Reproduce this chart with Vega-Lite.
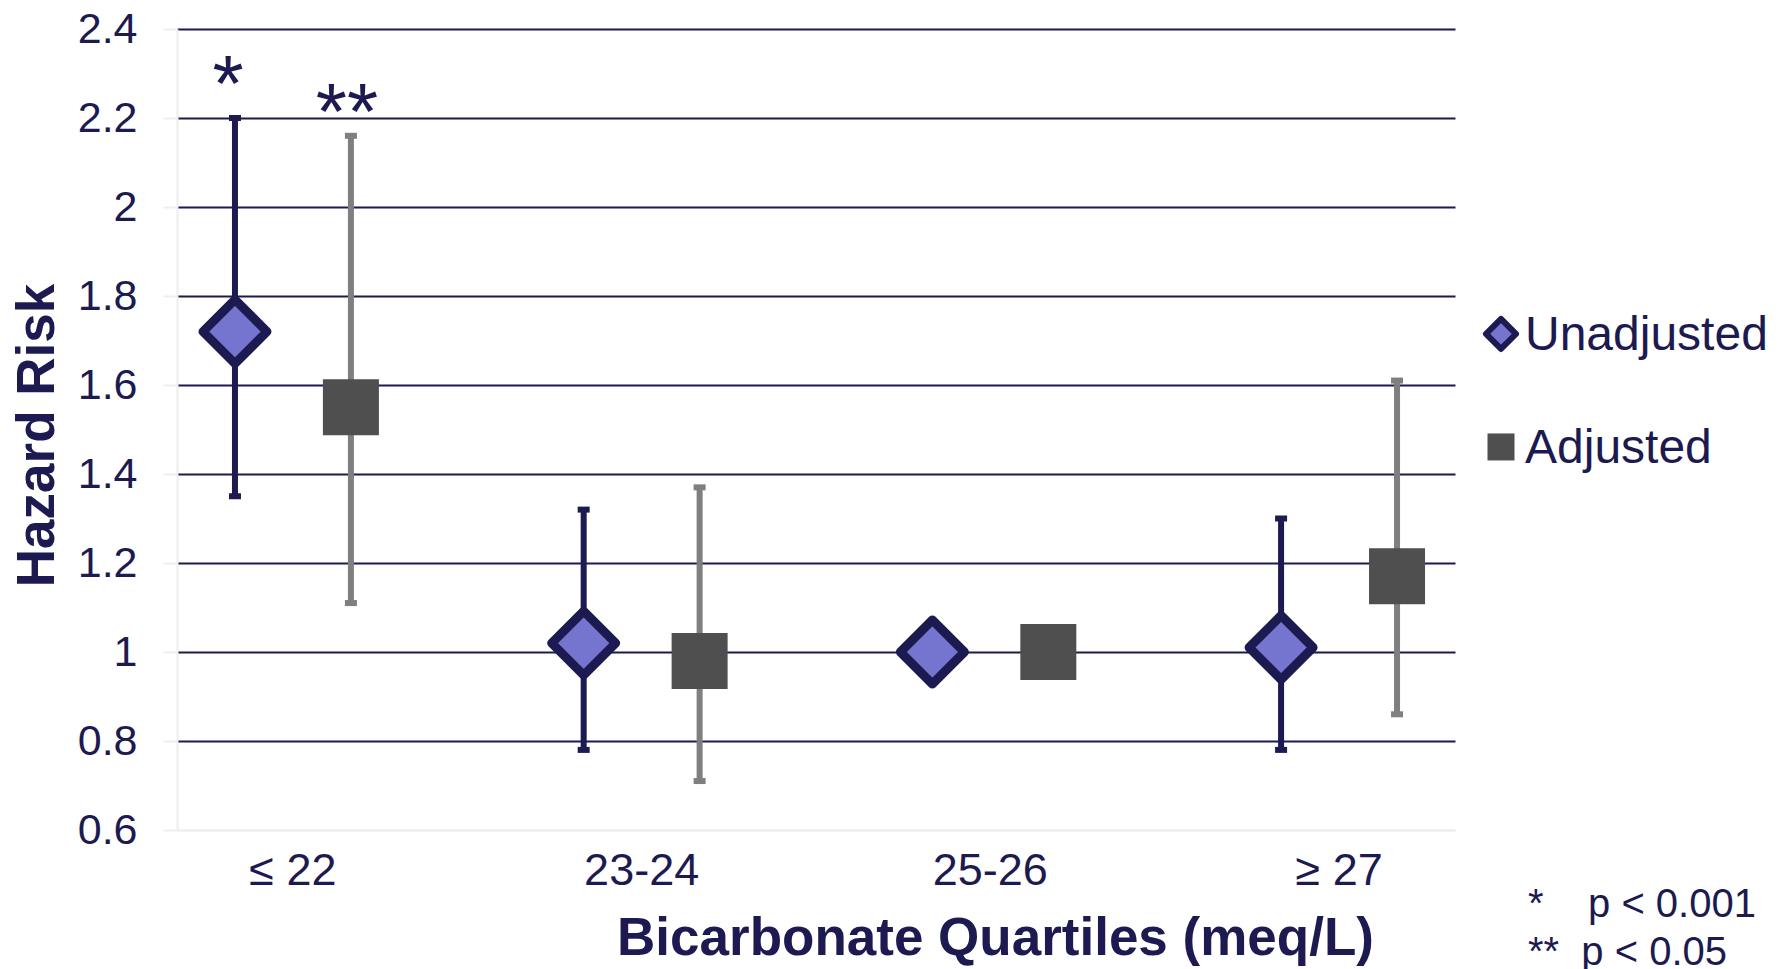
{
  "$schema": "https://vega.github.io/schema/vega-lite/v6.json",
  "autosize": {"type": "none"},
  "padding": {"left": 177, "top": 29, "right": 1611, "bottom": 139},
  "background": "white",
  "config": {"view": {"stroke": null}, "font": "Liberation Sans"},
  "spacing": 0,
  "bounds": "flush",
  "resolve": {"scale": {"y": "independent", "shape": "independent", "fill": "independent", "stroke": "independent", "size": "independent", "strokeWidth": "independent", "color": "independent"}},
  "title": {
    "text": ["*\u00a0\u00a0\u00a0\u00a0p < 0.001", "**\u00a0\u00a0p < 0.05"],
    "orient": "bottom",
    "anchor": "start",
    "align": "left",
    "dx": 1351,
    "offset": -80,
    "fontSize": 40,
    "fontWeight": "normal",
    "color": "#1c1a50",
    "lineHeight": 48,
    "font": "Liberation Sans",
    "frame": "group"
  },
  "hconcat": [
    {
      "width": 1278,
      "height": 801,
      "data": {
        "values": [
          {"quartile": "≤ 22", "series": "Unadjusted", "hr": 1.72, "lo": 1.35, "hi": 2.2, "sig": "*"},
          {"quartile": "≤ 22", "series": "Adjusted", "hr": 1.55, "lo": 1.11, "hi": 2.16, "sig": "**"},
          {"quartile": "23-24", "series": "Unadjusted", "hr": 1.02, "lo": 0.78, "hi": 1.32},
          {"quartile": "23-24", "series": "Adjusted", "hr": 0.98, "lo": 0.71, "hi": 1.37},
          {"quartile": "25-26", "series": "Unadjusted", "hr": 1.0},
          {"quartile": "25-26", "series": "Adjusted", "hr": 1.0},
          {"quartile": "≥ 27", "series": "Unadjusted", "hr": 1.01, "lo": 0.78, "hi": 1.3},
          {"quartile": "≥ 27", "series": "Adjusted", "hr": 1.17, "lo": 0.86, "hi": 1.61}
        ]
      },
      "encoding": {
        "x": {
          "field": "quartile",
          "type": "nominal",
          "sort": ["≤ 22", "23-24", "25-26", "≥ 27"],
          "scale": {"type": "band", "paddingInner": 0.335, "paddingOuter": 0},
          "axis": {
            "title": "Bicarbonate Quartiles (meq/L)",
            "labelFontSize": 45,
            "labelColor": "#1c1a50",
            "labelFont": "Liberation Sans",
            "labelAngle": 0,
            "ticks": false,
            "labelPadding": 18,
            "domainColor": "#eeeeee",
            "domainWidth": 2,
            "grid": false,
            "titleFont": "Liberation Sans",
            "titleFontSize": 53,
            "titleFontWeight": "bold",
            "titleColor": "#1c1a50",
            "titleX": 818,
            "titleY": 124,
            "titleBaseline": "alphabetic",
            "titleAlign": "center"
          }
        },
        "xOffset": {
          "field": "series",
          "type": "nominal",
          "sort": ["Unadjusted", "Adjusted"],
          "scale": {"paddingInner": 0, "paddingOuter": 0}
        }
      },
      "layer": [
        {
          "transform": [{"filter": "isValid(datum.lo)"}],
          "mark": {"type": "rule", "strokeWidth": 6},
          "encoding": {
            "y": {
              "field": "lo",
              "type": "quantitative",
              "scale": {"domain": [0.6, 2.4], "nice": false, "zero": false},
              "axis": {
                "title": "Hazard Risk",
                "values": [0.6, 0.8, 1.0, 1.2, 1.4, 1.6, 1.8, 2.0, 2.2, 2.4],
                "format": "~g",
                "labelFont": "Liberation Sans",
                "labelFontSize": 43,
                "labelColor": "#1c1a50",
                "labelPadding": 26,
                "tickSize": 14,
                "tickColor": "#eeeeee",
                "tickWidth": 2,
                "domainColor": "#eeeeee",
                "domainWidth": 2,
                "grid": true,
                "gridColor": {"condition": {"test": "datum.value <= 0.61", "value": "#eeeeee"}, "value": "#1c1a50"},
                "gridWidth": 2,
                "gridOpacity": 1,
                "titleFont": "Liberation Sans",
                "titleFontSize": 53,
                "titleFontWeight": "bold",
                "titleColor": "#1c1a50",
                "titleAngle": -90,
                "titleX": -124,
                "titleY": 406,
                "titleBaseline": "alphabetic",
                "titleAlign": "center"
              }
            },
            "y2": {"field": "hi"},
            "color": {
              "field": "series",
              "type": "nominal",
              "scale": {"domain": ["Unadjusted", "Adjusted"], "range": ["#1c1a50", "#7f7f7f"]},
              "legend": null
            }
          }
        },
        {
          "transform": [{"filter": "isValid(datum.lo)"}],
          "mark": {"type": "tick", "size": 12, "thickness": 6, "orient": "horizontal", "opacity": 1},
          "encoding": {
            "y": {"field": "lo", "type": "quantitative"},
            "color": {"field": "series", "type": "nominal", "legend": null}
          }
        },
        {
          "transform": [{"filter": "isValid(datum.hi)"}],
          "mark": {"type": "tick", "size": 12, "thickness": 6, "orient": "horizontal", "opacity": 1},
          "encoding": {
            "y": {"field": "hi", "type": "quantitative"},
            "color": {"field": "series", "type": "nominal", "legend": null}
          }
        },
        {
          "mark": {"type": "point", "filled": true, "strokeJoin": "round", "opacity": 1},
          "encoding": {
            "y": {"field": "hr", "type": "quantitative"},
            "shape": {
              "field": "series",
              "type": "nominal",
              "scale": {"domain": ["Unadjusted", "Adjusted"], "range": ["diamond", "square"]},
              "legend": null
            },
            "fill": {
              "field": "series",
              "type": "nominal",
              "scale": {"domain": ["Unadjusted", "Adjusted"], "range": ["#7575cf", "#4f4f4f"]},
              "legend": null
            },
            "stroke": {
              "field": "series",
              "type": "nominal",
              "scale": {"domain": ["Unadjusted", "Adjusted"], "range": ["#1c1a50", "#4f4f4f"]},
              "legend": null
            },
            "size": {
              "field": "series",
              "type": "nominal",
              "scale": {"type": "point", "padding": 0, "domain": ["Unadjusted", "Adjusted"], "range": [4096, 3136]},
              "legend": null
            },
            "strokeWidth": {
              "field": "series",
              "type": "nominal",
              "scale": {"type": "point", "padding": 0, "domain": ["Unadjusted", "Adjusted"], "range": [9, 0]},
              "legend": null
            }
          }
        },
        {
          "transform": [{"filter": "datum.sig == '*'"}],
          "mark": {"type": "text", "fontSize": 80, "baseline": "alphabetic", "align": "center", "color": "#1c1a50", "dy": -7, "dx": -7},
          "encoding": {
            "y": {"field": "hi", "type": "quantitative"},
            "text": {"field": "sig"}
          }
        },
        {
          "transform": [{"filter": "datum.sig == '**'"}],
          "mark": {"type": "text", "fontSize": 80, "baseline": "alphabetic", "align": "center", "color": "#1c1a50", "dy": 3, "dx": -4},
          "encoding": {
            "y": {"field": "hi", "type": "quantitative"},
            "text": {"field": "sig"}
          }
        }
      ]
    },
    {
      "width": 92,
      "height": 801,
      "data": {"values": [{"series": "Unadjusted"}, {"series": "Adjusted"}]},
      "encoding": {
        "y": {
          "field": "series",
          "type": "nominal",
          "scale": {"type": "point", "padding": 0.544, "align": 0.642, "domain": ["_a", "_b", "Unadjusted", "Adjusted", "_c", "_d", "_e"]},
          "axis": null
        }
      },
      "layer": [
        {
          "mark": {"type": "point", "filled": true, "strokeJoin": "round", "opacity": 1},
          "encoding": {
            "shape": {
              "field": "series",
              "type": "nominal",
              "scale": {"domain": ["Unadjusted", "Adjusted"], "range": ["diamond", "square"]},
              "legend": null
            },
            "fill": {
              "field": "series",
              "type": "nominal",
              "scale": {"domain": ["Unadjusted", "Adjusted"], "range": ["#7575cf", "#4f4f4f"]},
              "legend": null
            },
            "stroke": {
              "field": "series",
              "type": "nominal",
              "scale": {"domain": ["Unadjusted", "Adjusted"], "range": ["#1c1a50", "#4f4f4f"]},
              "legend": null
            },
            "size": {
              "field": "series",
              "type": "nominal",
              "scale": {"type": "point", "padding": 0, "domain": ["Unadjusted", "Adjusted"], "range": [900, 729]},
              "legend": null
            },
            "strokeWidth": {
              "field": "series",
              "type": "nominal",
              "scale": {"type": "point", "padding": 0, "domain": ["Unadjusted", "Adjusted"], "range": [6, 0]},
              "legend": null
            }
          }
        },
        {
          "mark": {"type": "text", "fontSize": 48, "font": "Liberation Sans", "align": "left", "baseline": "alphabetic", "dx": 24, "dy": 16, "color": "#1c1a50"},
          "encoding": {
            "text": {"field": "series"}
          }
        }
      ]
    }
  ]
}
